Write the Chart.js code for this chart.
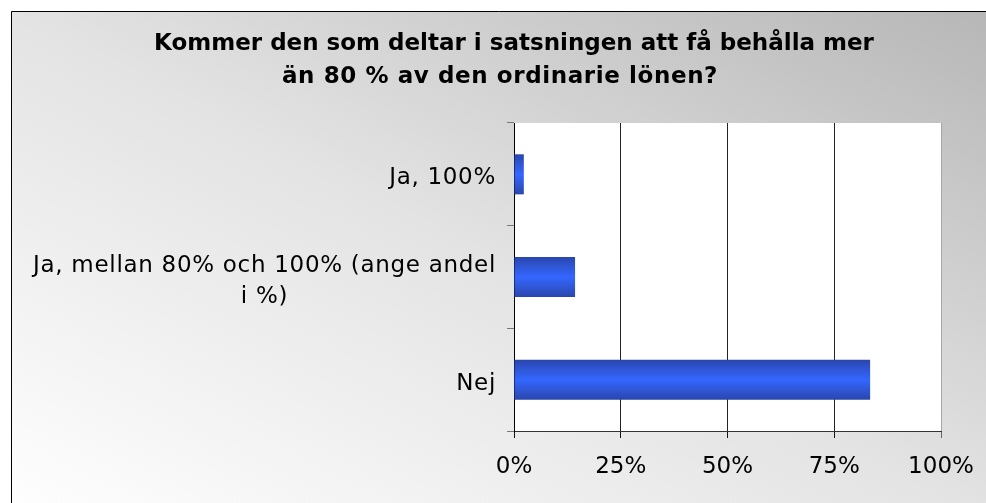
<!DOCTYPE html>
<html>
<head>
<meta charset="utf-8">
<script src="https://cdn.jsdelivr.net/npm/chart.js@4/dist/chart.umd.min.js"></script>
<style>
  html, body { margin: 0; padding: 0; overflow: hidden; background: #fff; }
  canvas { display: block; }
</style>
</head>
<body>
<canvas id="c" width="986" height="503"></canvas>
<script>
const titleLines = ["Kommer den som deltar i satsningen att få behålla mer", "än 80 % av den ordinarie lönen?"];
const categories = [["Ja, 100%"], ["Ja, mellan 80% och 100% (ange andel", "i %)"], ["Nej"]];
const values = [2.3, 14.3, 83.4];
const xTicks = [0, 25, 50, 75, 100];

const FONT = "'DejaVu Sans', Verdana, sans-serif";

const decor = {
  id: 'decor',
  beforeDraw(chart) {
    const ctx = chart.ctx;
    const W = chart.width, H = chart.height;
    ctx.save();
    const g = ctx.createLinearGradient(298, 668, 712, -138);
    g.addColorStop(0, '#ffffff');
    g.addColorStop(0.5, '#e3e3e3');
    g.addColorStop(1, '#b6b6b6');
    ctx.fillStyle = g;
    ctx.fillRect(0, 0, W, H);
    ctx.fillStyle = '#ffffff';
    ctx.fillRect(0, 0, W, 11);
    ctx.fillRect(0, 0, 11, H);
    ctx.strokeStyle = '#000';
    ctx.lineWidth = 1;
    ctx.beginPath();
    ctx.moveTo(11.5, H + 5);
    ctx.lineTo(11.5, 11.5);
    ctx.lineTo(W + 5, 11.5);
    ctx.stroke();
    const a = chart.chartArea;
    ctx.fillStyle = '#ffffff';
    ctx.fillRect(a.left, a.top, a.right - a.left, a.bottom - a.top);
    ctx.restore();
  },
  afterDraw(chart) {
    const ctx = chart.ctx;
    ctx.save();
    ctx.fillStyle = '#000';
    ctx.textBaseline = 'alphabetic';
    ctx.textAlign = 'center';
    ctx.font = 'bold 23px ' + FONT;
    ctx.fillText(titleLines[0], 514, 50);
    ctx.letterSpacing = '0.6px';
    ctx.fillText(titleLines[1], 500, 83);
    // category labels
    const ys = chart.scales.y;
    ctx.font = '23px ' + FONT;
    ctx.letterSpacing = '0.7px';
    categories.forEach((lines, i) => {
      const yc = ys.getPixelForTick(i);
      let w = 0;
      lines.forEach(l => { w = Math.max(w, ctx.measureText(l).width); });
      const cx = 496 - w / 2;
      const lh = 31;
      const y0 = yc + 10 - (lines.length - 1) * lh / 2;
      lines.forEach((l, k) => ctx.fillText(l, cx, y0 + k * lh));
    });
    ctx.restore();
  }
};

function barFill(c) {
  const chart = c.chart;
  const a = chart.chartArea;
  if (!a || !chart.scales.y) return '#3366ff';
  const y = chart.scales.y.getPixelForValue(c.dataIndex);
  const h = 40;
  const g = chart.ctx.createLinearGradient(0, y - h / 2, 0, y + h / 2);
  g.addColorStop(0, '#2a46ad');
  g.addColorStop(0.5, '#3467ff');
  g.addColorStop(1, '#2a46ad');
  return g;
}

new Chart(document.getElementById('c'), {
  type: 'bar',
  data: {
    labels: categories,
    datasets: [{
      data: values,
      backgroundColor: barFill,
      borderWidth: 0,
      categoryPercentage: 1,
      barPercentage: 0.39
    }]
  },
  options: {
    indexAxis: 'y',
    responsive: false,
    animation: false,
    devicePixelRatio: 1,
    layout: { padding: { top: 123, right: 45, left: 0, bottom: 0 } },
    plugins: { legend: { display: false }, title: { display: false }, tooltip: { enabled: false } },
    scales: {
      x: {
        min: 0, max: 100,
        afterBuildTicks(s) { s.ticks = xTicks.map(v => ({ value: v })); },
        afterFit(s) { s.height = 72; s.paddingLeft = 0; s.paddingRight = 0; },
        ticks: {
          callback: v => v + '%',
          font: { family: FONT, size: 23 },
          color: '#000',
          padding: 15,
          maxRotation: 0
        },
        grid: {
          color: c => (c.tick && c.tick.value === 100) ? '#a6a6a6' : (c.tick && c.tick.value === 0 ? 'rgba(0,0,0,0)' : '#222'),
          tickColor: c => (c.tick && c.tick.value === 100) ? '#666' : '#111',
          tickLength: 7
        },
        border: { color: '#333', width: 1 }
      },
      y: {
        afterFit(s) { s.width = 514; s.paddingTop = 0; s.paddingBottom = 0; },
        ticks: { display: false },
        grid: {
          drawOnChartArea: false,
          tickLength: 7,
          tickColor: '#777',
          offset: true
        },
        border: { color: '#000', width: 1 }
      }
    }
  },
  plugins: [decor]
});
</script>
</body>
</html>
